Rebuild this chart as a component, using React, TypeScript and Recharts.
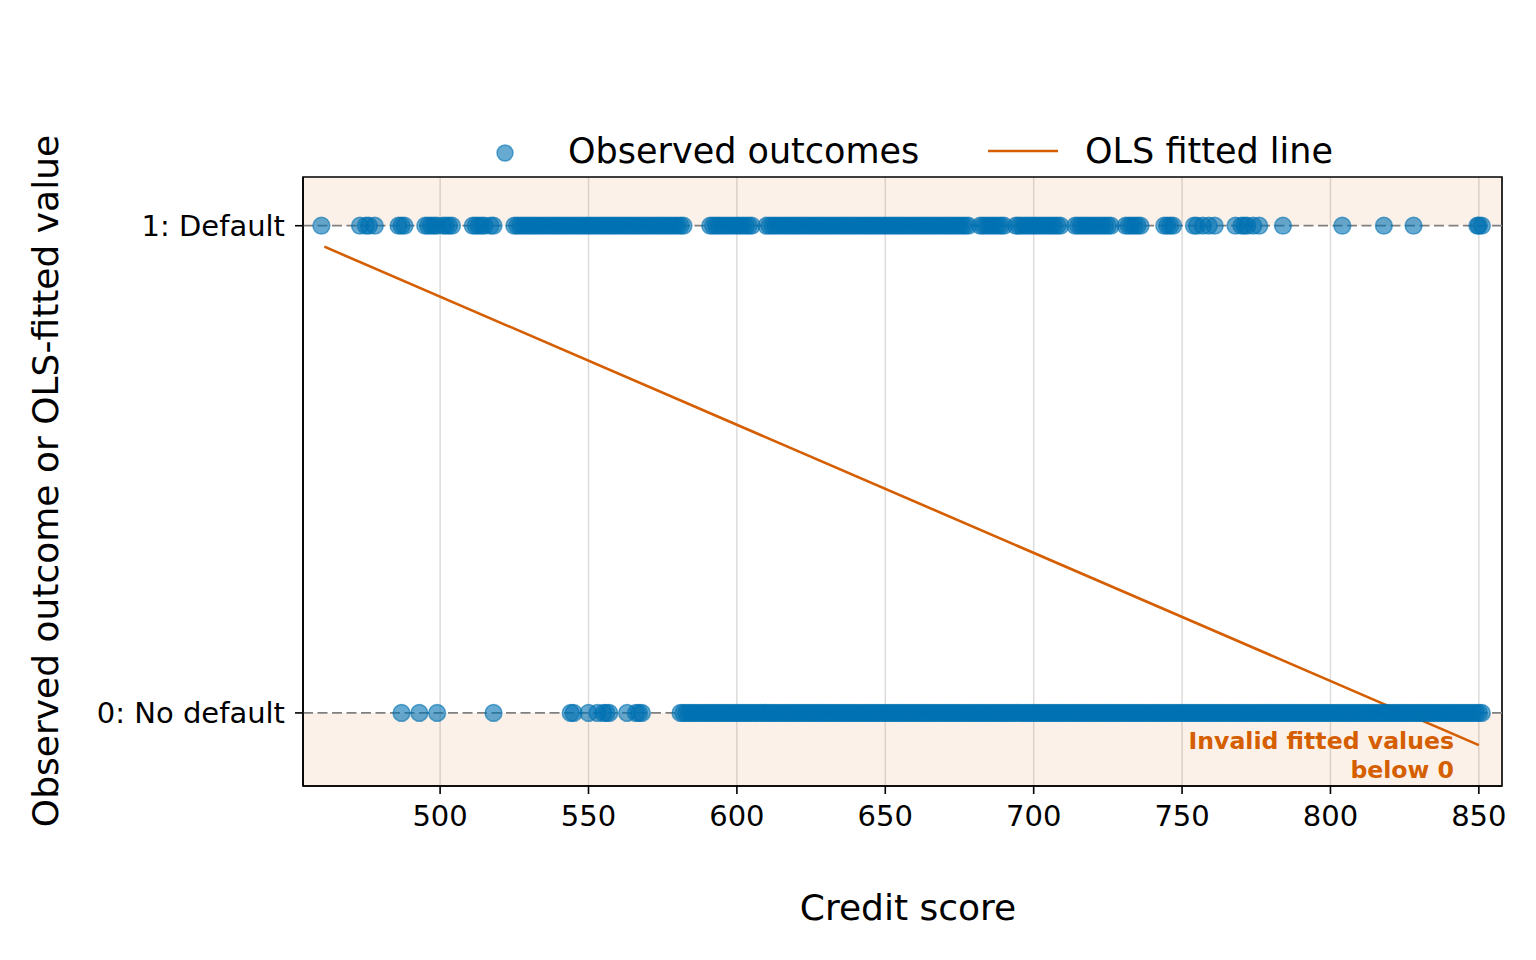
import {
  ComposedChart,
  Scatter,
  Line,
  XAxis,
  YAxis,
  CartesianGrid,
  ReferenceLine,
  ReferenceArea,
} from 'recharts'

// credit scores of borrowers who defaulted (outcome = 1)
const defaultScores = [
  460,
  473, 475, 476, 478,
  486, 487, 488,
  495, 496, 497, 498, 499, 501, 502, 503, 504,
  511, 512, 513, 514, 515, 517, 518,
  525, 526, 527, 528, 529, 530, 531, 532, 533, 534, 535, 536, 537, 538, 539, 540,
  541, 542, 543, 544, 545, 546, 547, 548, 549, 550, 551, 552, 553, 554, 555, 556,
  557, 558, 559, 560, 561, 562, 563, 564, 565, 566, 567, 568, 569, 570, 571, 572,
  573, 574, 575, 576, 577, 578, 579, 580, 581, 582,
  591, 592, 593, 594, 595, 596, 597, 598, 599, 600, 601, 602, 603, 604, 605,
  610, 611, 612, 613, 614, 615, 616, 617, 618, 619, 620, 621, 622, 623, 624, 625,
  626, 627, 628, 629, 630, 631, 632, 633, 634, 635, 636, 637, 638, 639, 640, 641,
  642, 643, 644, 645, 646, 647, 648, 649, 650, 651, 652, 653, 654, 655, 656, 657,
  658, 659, 660, 661, 662, 663, 664, 665, 666, 667, 668, 669, 670, 671, 672, 673,
  674, 675, 676, 677, 678,
  682, 683, 684, 685, 686, 687, 688, 689, 690,
  694, 695, 696, 697, 698, 699, 700, 701, 702, 703, 704, 705, 706, 707, 708, 709,
  714, 715, 716, 717, 718, 719, 720, 721, 722, 723, 724, 725, 726,
  731, 732, 733, 734, 735, 736,
  744, 745, 746, 747,
  754, 755, 757, 759, 761,
  768, 770, 771, 772, 774, 776,
  784, 804, 818, 828,
  849.5, 850, 851,
]

// credit scores of borrowers who did not default (outcome = 0)
const noDefaultScores = [
  487, 493, 499, 518,
  544, 545, 550, 553, 555, 556, 557, 563, 566, 567, 568,
  581, 582, 583, 584, 585, 586, 587, 588, 589, 590, 591, 592, 593, 594, 595, 596,
  597, 598, 599, 600, 601, 602, 603, 604, 605, 606, 607, 608, 609, 610, 611, 612,
  613, 614, 615, 616, 617, 618, 619, 620, 621, 622, 623, 624, 625, 626, 627, 628,
  629, 630, 631, 632, 633, 634, 635, 636, 637, 638, 639, 640, 641, 642, 643, 644,
  645, 646, 647, 648, 649, 650, 651, 652, 653, 654, 655, 656, 657, 658, 659, 660,
  661, 662, 663, 664, 665, 666, 667, 668, 669, 670, 671, 672, 673, 674, 675, 676,
  677, 678, 679, 680, 681, 682, 683, 684, 685, 686, 687, 688, 689, 690, 691, 692,
  693, 694, 695, 696, 697, 698, 699, 700, 701, 702, 703, 704, 705, 706, 707, 708,
  709, 710, 711, 712, 713, 714, 715, 716, 717, 718, 719, 720, 721, 722, 723, 724,
  725, 726, 727, 728, 729, 730, 731, 732, 733, 734, 735, 736, 737, 738, 739, 740,
  741, 742, 743, 744, 745, 746, 747, 748, 749, 750, 751, 752, 753, 754, 755, 756,
  757, 758, 759, 760, 761, 762, 763, 764, 765, 766, 767, 768, 769, 770, 771, 772,
  773, 774, 775, 776, 777, 778, 779, 780, 781, 782, 783, 784, 785, 786, 787, 788,
  789, 790, 791, 792, 793, 794, 795, 796, 797, 798, 799, 800, 801, 802, 803, 804,
  805, 806, 807, 808, 809, 810, 811, 812, 813, 814, 815, 816, 817, 818, 819, 820,
  821, 822, 823, 824, 825, 826, 827, 828, 829, 830, 831, 832, 833, 834, 835, 836,
  837, 838, 839, 840, 841, 842, 843, 844, 845, 846, 847, 848, 849, 850, 851,
]

// OLS fit evaluated at the lowest and highest score
const fittedScores = [461, 850]
const fittedValues = [0.957, -0.066]

const xTicks = [500, 550, 600, 650, 700, 750, 800, 850]
const yTicks = [0, 1]
const yTickLabels = ['0: No default', '1: Default']

const observed = [
  ...noDefaultScores.map(x => ({ x, y: 0 })),
  ...defaultScores.map(x => ({ x, y: 1 })),
]
const fitted = fittedScores.map((x, i) => ({ x, y: fittedValues[i] }))

const BLUE = '#0072B2'
const ORANGE = '#D55E00'
const FONT = '"DejaVu Sans", sans-serif'
const X_DOMAIN: [number, number] = [453.8, 857.8]
const Y_DOMAIN: [number, number] = [-0.15, 1.1]

const Dot = (p: any) => (
  <circle
    cx={p.cx}
    cy={p.cy}
    r={8.4}
    fill={BLUE}
    fillOpacity={0.6}
    stroke={BLUE}
    strokeOpacity={0.6}
    strokeWidth={1.5}
  />
)

export default function App() {
  return (
    <div style={{ position: 'relative', width: 1536, height: 960, fontFamily: FONT, background: '#fff' }}>
      <style>{'body{margin:0}'}</style>
      <ComposedChart
        width={1536}
        height={960}
        margin={{ top: 177, right: 34, left: 203, bottom: 114 }}
      >
        <ReferenceArea y1={1} y2={1.1} fill={ORANGE} fillOpacity={0.085} stroke="none" />
        <ReferenceArea y1={-0.15} y2={0} fill={ORANGE} fillOpacity={0.085} stroke="none" />
        <CartesianGrid horizontal={false} stroke="#dcdcdc" strokeWidth={1.5} />
        <XAxis
          type="number"
          dataKey="x"
          domain={X_DOMAIN}
          allowDataOverflow
          ticks={xTicks}
          interval={0}
          height={60}
          tickSize={8}
          tickMargin={11}
          axisLine={{ stroke: '#000', strokeWidth: 1.6 }}
          tickLine={{ stroke: '#000', strokeWidth: 1.6 }}
          tick={{ fontSize: 29, fill: '#000', fontFamily: FONT }}
        />
        <YAxis
          type="number"
          dataKey="y"
          domain={Y_DOMAIN}
          allowDataOverflow
          ticks={yTicks}
          interval={0}
          width={100}
          tickSize={8}
          tickMargin={10}
          tickFormatter={(v: number) => yTickLabels[yTicks.indexOf(v)]}
          axisLine={{ stroke: '#000', strokeWidth: 1.6 }}
          tickLine={{ stroke: '#000', strokeWidth: 1.6 }}
          tick={{ fontSize: 29, fill: '#000', fontFamily: FONT }}
        />
        <ReferenceLine y={1} stroke="#808080" strokeWidth={1.8} strokeDasharray="10 4.5" />
        <ReferenceLine y={0} stroke="#808080" strokeWidth={1.8} strokeDasharray="10 4.5" />
        <Scatter data={observed} dataKey="y" shape={Dot} isAnimationActive={false} />
        <Line
          data={fitted}
          dataKey="y"
          type="linear"
          stroke={ORANGE}
          strokeWidth={2.6}
          dot={false}
          activeDot={false}
          isAnimationActive={false}
        />
        <ReferenceArea
          x1={X_DOMAIN[0]}
          x2={X_DOMAIN[1]}
          y1={Y_DOMAIN[0]}
          y2={Y_DOMAIN[1]}
          fill="none"
          fillOpacity={0}
          stroke="#000"
          strokeWidth={1.6}
        />
      </ComposedChart>

      <svg
        width={1536}
        height={960}
        style={{ position: 'absolute', left: 0, top: 0, pointerEvents: 'none' }}
        fontFamily={FONT}
      >
        {/* legend */}
        <circle cx={505} cy={153} r={8} fill={BLUE} fillOpacity={0.6} stroke={BLUE} strokeOpacity={0.6} strokeWidth={1.5} />
        <text x={568} y={163} fontSize={35} fill="#000">Observed outcomes</text>
        <line x1={988} x2={1058} y1={151} y2={151} stroke={ORANGE} strokeWidth={2.6} />
        <text x={1085} y={163} fontSize={35} fill="#000">OLS fitted line</text>

        {/* axis titles */}
        <text x={908} y={920} fontSize={36} textAnchor="middle" fill="#000">Credit score</text>
        <text
          x={0}
          y={0}
          fontSize={36}
          textAnchor="middle"
          fill="#000"
          transform="translate(58 481) rotate(-90)"
        >
          Observed outcome or OLS-fitted value
        </text>

        {/* annotation */}
        <text x={1454} y={749} fontSize={23.6} fontWeight="bold" textAnchor="end" fill={ORANGE}>
          Invalid fitted values
        </text>
        <text x={1454} y={778} fontSize={23.6} fontWeight="bold" textAnchor="end" fill={ORANGE}>
          below 0
        </text>
      </svg>
    </div>
  )
}
